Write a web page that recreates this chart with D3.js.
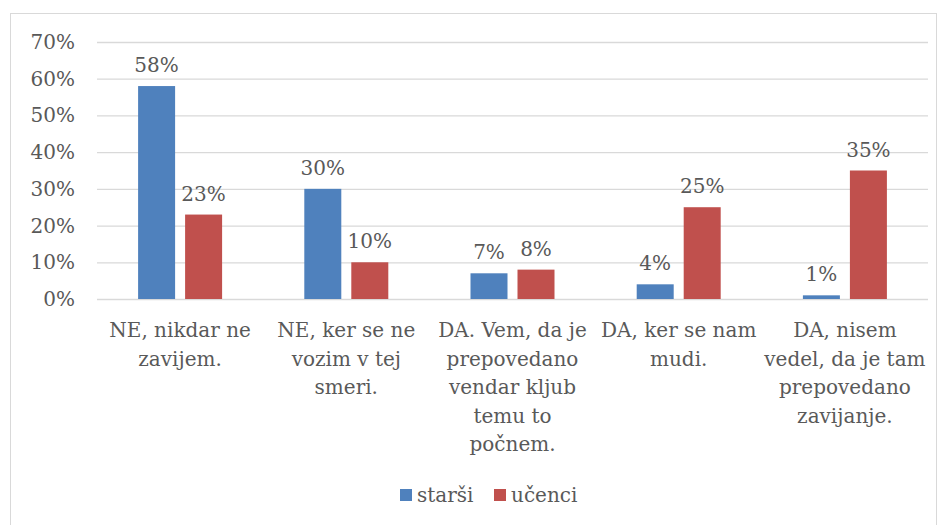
<!DOCTYPE html>
<html>
<head>
<meta charset="utf-8">
<script src="https://cdn.jsdelivr.net/npm/d3@7"></script>
<style>
  body { margin: 0; background: #fff; }
  text { font-family: "DejaVu Serif", serif; fill: #595959; }
</style>
</head>
<body>
<svg id="chart" width="947" height="525"></svg>
<script>
const categories = [
  ["NE, nikdar ne", "zavijem."],
  ["NE, ker se ne", "vozim v tej", "smeri."],
  ["DA. Vem, da je", "prepovedano", "vendar kljub", "temu to", "počnem."],
  ["DA, ker se nam", "mudi."],
  ["DA, nisem", "vedel, da je tam", "prepovedano", "zavijanje."]
]
const series = ["starši", "učenci"]
const starsi = [58, 30, 7, 4, 1]
const ucenci = [23, 10, 8, 25, 35]
const yTicks = [0, 10, 20, 30, 40, 50, 60, 70]
const colors = ['#4f81bd', '#c0504d']

const svg = d3.select('#chart')
const plotLeft = 97, plotRight = 928, plotTop = 42, plotBottom = 299
const fontSize = 20

// frame
svg.append("rect")
  .attr("x", 10.5).attr("y", 13.5)
  .attr("width", 926).attr("height", 520)
  .attr("fill", "none").attr("stroke", "#d9d9d9")

const x0 = d3.scaleBand()
  .domain(d3.range(categories.length))
  .range([plotLeft, plotRight])

const y = d3.scaleLinear()
  .domain([0, 70])
  .range([plotBottom, plotTop])

// gridlines
svg.append("g").selectAll("line")
  .data(yTicks)
  .join("line")
    .attr("x1", plotLeft).attr("x2", plotRight)
    .attr("y1", d => y(d) + 0.5).attr("y2", d => y(d) + 0.5)
    .attr("stroke", "#d9d9d9").attr("stroke-width", 1.3)

// y labels
svg.append("g").selectAll("text")
  .data(yTicks)
  .join("text")
    .attr("x", 75)
    .attr("y", d => y(d))
    .attr("dy", "0.35em")
    .attr("text-anchor", "end")
    .style("font-size", fontSize + "px")
    .text(d => d + "%")

const barW = 37, gap = 10
const x1 = d3.scaleOrdinal().domain([0, 1]).range([-(barW + gap / 2), gap / 2])

const rows = []
categories.forEach((c, i) => {
  rows.push({ cat: i, s: 0, v: starsi[i] })
  rows.push({ cat: i, s: 1, v: ucenci[i] })
})

svg.append("g").selectAll("rect")
  .data(rows)
  .join("rect")
    .attr("x", d => x0(d.cat) + x0.bandwidth() / 2 + x1(d.s))
    .attr("y", d => y(d.v))
    .attr("width", barW)
    .attr("height", d => y(0) - y(d.v))
    .attr("fill", d => colors[d.s])

// data labels
svg.append("g").selectAll("text")
  .data(rows)
  .join("text")
    .attr("x", d => x0(d.cat) + x0.bandwidth() / 2 + x1(d.s) + barW / 2)
    .attr("y", d => y(d.v) - 14)
    .attr("text-anchor", "middle")
    .style("font-size", fontSize + "px")
    .text(d => d.v + "%")

// category labels
const catG = svg.append("g").selectAll("text")
  .data(categories)
  .join("text")
    .attr("text-anchor", "middle")
    .style("font-size", fontSize + "px")
catG.selectAll("tspan")
  .data((d, i) => d.map(t => ({ t: t, i: i })))
  .join("tspan")
    .attr("x", d => x0(d.i) + x0.bandwidth() / 2)
    .attr("y", (d, j) => 337 + j * 28.5)
    .text(d => d.t)

// legend
const legend = svg.append("g").attr("transform", "translate(400,495)")
const lx = [0, 94]
series.forEach((s, i) => {
  legend.append("rect")
    .attr("x", lx[i]).attr("y", -6)
    .attr("width", 12).attr("height", 12)
    .attr("fill", colors[i])
  legend.append("text")
    .attr("x", lx[i] + 17).attr("y", 0)
    .attr("dy", "0.35em")
    .style("font-size", fontSize + "px")
    .text(s)
})
</script>
</body>
</html>
